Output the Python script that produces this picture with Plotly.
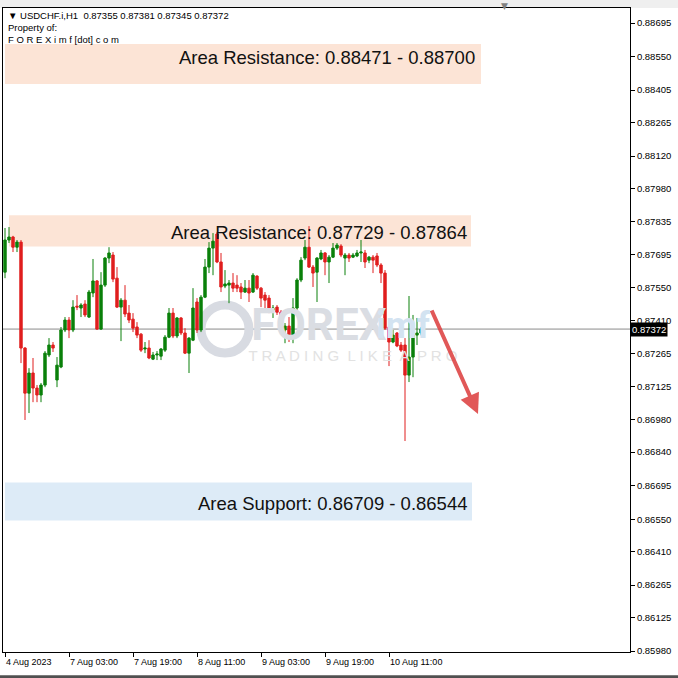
import plotly.graph_objects as go

# ---------------- data ----------------
bar_index = list(range(105))

open_p = [0.87618, 0.87757, 0.87770, 0.87726, 0.87748, 0.87290, 0.87095, 0.87182, 0.87117, 0.87087,
          0.87130, 0.87260, 0.87303, 0.87152, 0.87208, 0.87368, 0.87411, 0.87368, 0.87471, 0.87463,
          0.87480, 0.87424, 0.87528, 0.87580, 0.87372, 0.87562, 0.87679, 0.87692, 0.87592, 0.87467,
          0.87497, 0.87441, 0.87415, 0.87381, 0.87350, 0.87286, 0.87290, 0.87242, 0.87260, 0.87255,
          0.87281, 0.87337, 0.87441, 0.87342, 0.87420, 0.87355, 0.87268, 0.87324, 0.87489, 0.87368,
          0.87510, 0.87640, 0.87722, 0.87783, 0.87662, 0.87558, 0.87562, 0.87571, 0.87562, 0.87554,
          0.87532, 0.87549, 0.87532, 0.87601, 0.87549, 0.87519, 0.87506, 0.87454, 0.87467, 0.87445,
          0.87368, 0.87385, 0.87337, 0.87463, 0.87584, 0.87679, 0.87726, 0.87640, 0.87618, 0.87675,
          0.87701, 0.87662, 0.87683, 0.87722, 0.87731, 0.87679, 0.87692, 0.87683, 0.87688, 0.87701,
          0.87701, 0.87670, 0.87683, 0.87688, 0.87649, 0.87614, 0.87381, 0.87316, 0.87355, 0.87303,
          0.87303, 0.87173, 0.87251, 0.87346, 0.87355]

high_p = [0.87809, 0.87813, 0.87775, 0.87757, 0.87757, 0.87294, 0.87203, 0.87247, 0.87130, 0.87139,
          0.87277, 0.87333, 0.87316, 0.87251, 0.87381, 0.87424, 0.87424, 0.87497, 0.87519, 0.87484,
          0.87497, 0.87541, 0.87675, 0.87584, 0.87618, 0.87683, 0.87726, 0.87705, 0.87640, 0.87506,
          0.87562, 0.87476, 0.87441, 0.87402, 0.87355, 0.87316, 0.87324, 0.87273, 0.87277, 0.87290,
          0.87346, 0.87463, 0.87463, 0.87424, 0.87424, 0.87376, 0.87337, 0.87549, 0.87506, 0.87519,
          0.87675, 0.87748, 0.87787, 0.87791, 0.87701, 0.87627, 0.87584, 0.87614, 0.87605, 0.87571,
          0.87584, 0.87584, 0.87614, 0.87605, 0.87554, 0.87532, 0.87519, 0.87476, 0.87476, 0.87454,
          0.87398, 0.87424, 0.87506, 0.87592, 0.87683, 0.87757, 0.87817, 0.87649, 0.87683, 0.87714,
          0.87705, 0.87692, 0.87744, 0.87744, 0.87739, 0.87701, 0.87701, 0.87701, 0.87714, 0.87757,
          0.87714, 0.87688, 0.87692, 0.87701, 0.87657, 0.87627, 0.87398, 0.87368, 0.87359, 0.87316,
          0.87333, 0.87515, 0.87433, 0.87420, 0.87381]

low_p = [0.87592, 0.87744, 0.87705, 0.87705, 0.87225, 0.86979, 0.87009, 0.87056, 0.87056, 0.87056,
         0.87121, 0.87251, 0.87273, 0.87121, 0.87203, 0.87359, 0.87333, 0.87359, 0.87454, 0.87424,
         0.87424, 0.87420, 0.87510, 0.87368, 0.87368, 0.87554, 0.87657, 0.87575, 0.87463, 0.87320,
         0.87424, 0.87398, 0.87359, 0.87333, 0.87273, 0.87268, 0.87242, 0.87238, 0.87238, 0.87238,
         0.87273, 0.87333, 0.87333, 0.87333, 0.87346, 0.87264, 0.87182, 0.87320, 0.87355, 0.87359,
         0.87506, 0.87614, 0.87605, 0.87657, 0.87532, 0.87549, 0.87484, 0.87532, 0.87532, 0.87502,
         0.87528, 0.87489, 0.87528, 0.87541, 0.87467, 0.87445, 0.87441, 0.87420, 0.87433, 0.87355,
         0.87311, 0.87316, 0.87311, 0.87454, 0.87575, 0.87670, 0.87636, 0.87554, 0.87489, 0.87670,
         0.87605, 0.87571, 0.87679, 0.87714, 0.87683, 0.87605, 0.87662, 0.87679, 0.87683, 0.87662,
         0.87636, 0.87657, 0.87614, 0.87640, 0.87571, 0.87368, 0.87212, 0.87311, 0.87294, 0.87273,
         0.86888, 0.87143, 0.87164, 0.87303, 0.87345]

close_p = [0.87757, 0.87770, 0.87726, 0.87748, 0.87290, 0.87095, 0.87182, 0.87117, 0.87087, 0.87130,
           0.87268, 0.87303, 0.87290, 0.87216, 0.87368, 0.87411, 0.87368, 0.87467, 0.87467, 0.87476,
           0.87433, 0.87532, 0.87580, 0.87372, 0.87562, 0.87679, 0.87701, 0.87588, 0.87467, 0.87497,
           0.87437, 0.87411, 0.87376, 0.87346, 0.87281, 0.87290, 0.87247, 0.87260, 0.87264, 0.87286,
           0.87337, 0.87441, 0.87342, 0.87420, 0.87355, 0.87268, 0.87333, 0.87463, 0.87368, 0.87510,
           0.87640, 0.87722, 0.87752, 0.87662, 0.87554, 0.87567, 0.87571, 0.87549, 0.87549, 0.87532,
           0.87549, 0.87528, 0.87605, 0.87549, 0.87506, 0.87497, 0.87445, 0.87463, 0.87445, 0.87368,
           0.87385, 0.87337, 0.87463, 0.87584, 0.87670, 0.87726, 0.87640, 0.87614, 0.87679, 0.87701,
           0.87662, 0.87683, 0.87722, 0.87735, 0.87692, 0.87692, 0.87679, 0.87692, 0.87701, 0.87705,
           0.87662, 0.87683, 0.87670, 0.87649, 0.87614, 0.87376, 0.87316, 0.87346, 0.87299, 0.87281,
           0.87173, 0.87251, 0.87346, 0.87355, 0.87372]

x_tick_pos = [0, 16, 32, 48, 64, 80, 96]
x_tick_text = ["4 Aug 2023", "7 Aug 03:00", "7 Aug 19:00", "8 Aug 11:00",
               "9 Aug 03:00", "9 Aug 19:00", "10 Aug 11:00"]

y_tick_text = ["0.88695", "0.88550", "0.88405", "0.88265", "0.88120", "0.87980", "0.87835",
               "0.87695", "0.87550", "0.87410", "0.87265", "0.87125", "0.86980", "0.86840",
               "0.86695", "0.86550", "0.86410", "0.86265", "0.86125", "0.85980"]

zone_labels = ["Area Resistance: 0.88471 - 0.88700",
               "Area Resistance: 0.87729 - 0.87864",
               "Area Support: 0.86709 - 0.86544"]
zone_low = [0.88431, 0.87729, 0.86544]
zone_high = [0.88604, 0.87864, 0.86709]

symbol_header = "USDCHF.i,H1"

# ---------------- layout helpers (positions / styles) ----------------
zone_x0 = [0, 1, 0]
zone_x1 = [119, 116.5, 116.75]
zone_label_x = [118, 116, 116]
zone_label_y = [0.88548, 0.87791, 0.86620]
zone_fill = ["#FCE4D6", "#FCE4D6", "#DDEBF7"]

arrow_tail = (106.5, 0.87459)
arrow_head = (118.25, 0.87005)

GREEN = "#0A800A"
RED = "#E01E1E"
FONT = "Liberation Sans"

fig = go.Figure()

# watermark (drawn first so candles sit above it)
fig.add_trace(go.Scatter(x=[78.5], y=[0.87372], mode="text",
                         text=["<b>FOREX</b>"],
                         textfont=dict(family="Roboto", size=44, color="#DADDE3"),
                         hoverinfo="skip", showlegend=False))
fig.add_trace(go.Scatter(x=[99.5], y=[0.87372], mode="text",
                         text=["<b>imf</b>"],
                         textfont=dict(family="Roboto", size=36, color="#D3E3F1"),
                         hoverinfo="skip", showlegend=False))
fig.add_trace(go.Scatter(x=[87], y=[0.87251], mode="text",
                         text=["T R A D I N G  L I K E  A  P R O"],
                         textfont=dict(family=FONT, size=15, color="#E2E2E2"),
                         hoverinfo="skip", showlegend=False))

fig.add_trace(go.Candlestick(
    x=bar_index, open=open_p, high=high_p, low=low_p, close=close_p,
    increasing=dict(line=dict(color=GREEN, width=1), fillcolor=GREEN),
    decreasing=dict(line=dict(color=RED, width=1), fillcolor=RED),
    whiskerwidth=0, showlegend=False, hoverinfo="skip"))

shapes = []
for i in range(len(zone_labels)):
    shapes.append(dict(type="rect", xref="x", yref="y", x0=zone_x0[i], x1=zone_x1[i],
                       y0=zone_low[i], y1=zone_high[i], fillcolor=zone_fill[i],
                       line=dict(width=0), layer="below"))
# watermark logo ring
shapes.append(dict(type="circle", xref="x", yref="y", xsizemode="pixel", ysizemode="pixel",
                   xanchor=55, yanchor=0.87372, x0=-24, x1=24, y0=-24, y1=24,
                   line=dict(color="#D8DBE2", width=9), fillcolor="rgba(0,0,0,0)", layer="below"))
# bid line
shapes.append(dict(type="line", xref="paper", yref="y", x0=0, x1=1,
                   y0=close_p[-1], y1=close_p[-1], line=dict(color="#8A8A8A", width=1),
                   layer="below"))
# outer frame strips
shapes.append(dict(type="rect", xref="paper", yref="paper", x0=-0.01, x1=1.08,
                   y0=1.0, y1=1.02, fillcolor="#EFEFEF", line=dict(width=0), layer="below"))
shapes.append(dict(type="rect", xref="paper", yref="paper", x0=-0.01, x1=1.08,
                   y0=-0.045, y1=-0.036, fillcolor="#505050", line=dict(width=0), layer="below"))

annotations = []
for i in range(len(zone_labels)):
    annotations.append(dict(x=zone_label_x[i], y=zone_label_y[i], xref="x", yref="y",
                            text=zone_labels[i], showarrow=False, xanchor="right",
                            yanchor="middle", font=dict(family=FONT, size=18.5, color="#111111")))

for p, t in zip(x_tick_pos, x_tick_text):
    annotations.append(dict(x=p, y=0, xref="x", yref="paper", text=t, showarrow=False,
                            xanchor="left", yanchor="top", yshift=-3, xshift=-1,
                            font=dict(family=FONT, size=9, color="#000000")))

header_lines = ["▼ " + symbol_header + "  " + " ".join(f"{v:.5f}" for v in
                (open_p[-1], high_p[-1], low_p[-1], close_p[-1])),
                "Property of:",
                "F O R E X i m f [dot] c o m"]
for k, line in enumerate(header_lines):
    annotations.append(dict(x=0, y=1, xref="paper", yref="paper", text=line, showarrow=False,
                            xanchor="left", yanchor="top", xshift=3, yshift=0 - 12 * k,
                            font=dict(family=FONT, size=9.5, color="#000000")))

# current price tag
annotations.append(dict(x=1, y=close_p[-1], xref="paper", yref="y", text=f"{close_p[-1]:.5f}",
                        showarrow=False, xanchor="left", yanchor="middle", xshift=0,
                        bgcolor="#000000", borderpad=1,
                        font=dict(family=FONT, size=9.5, color="#FFFFFF")))

# shift marker at top
annotations.append(dict(x=0.80, y=1, xref="paper", yref="paper", text="▼", showarrow=False,
                        xanchor="center", yanchor="middle", yshift=2,
                        font=dict(family="DejaVu Sans", size=9, color="#808080")))

# forecast arrow
annotations.append(dict(x=arrow_head[0], y=arrow_head[1], ax=arrow_tail[0], ay=arrow_tail[1],
                        xref="x", yref="y", axref="x", ayref="y", showarrow=True, text="",
                        arrowhead=2, arrowsize=1.0, arrowwidth=4,
                        arrowcolor="rgba(222,70,70,0.9)"))

fig.update_layout(
    width=678, height=678,
    margin=dict(l=3, r=48, t=8, b=26),
    paper_bgcolor="#FFFFFF", plot_bgcolor="#FFFFFF",
    font=dict(family=FONT, size=9.5, color="#000000"),
    showlegend=False, boxgap=0.15,
    shapes=shapes, annotations=annotations,
    xaxis=dict(range=[-0.5, 156.25], rangeslider=dict(visible=False),
               showgrid=False, zeroline=False, tickmode="array", tickvals=x_tick_pos,
               showticklabels=False, ticks="outside", ticklen=4, tickcolor="#000000",
               showline=True, linecolor="#000000", linewidth=1, mirror=True),
    yaxis=dict(range=[0.85976, 0.88760], side="right", showgrid=False, zeroline=False,
               tickmode="array", tickvals=[float(t) for t in y_tick_text], ticktext=y_tick_text,
               ticks="outside", ticklen=4, tickcolor="#000000",
               tickfont=dict(family=FONT, size=9.5, color="#000000"),
               showline=True, linecolor="#000000", linewidth=1, mirror=True),
)

fig.write_html("out.html", config={"displayModeBar": False},
               post_script="document.body.style.margin='0';document.body.style.overflow='hidden';")
